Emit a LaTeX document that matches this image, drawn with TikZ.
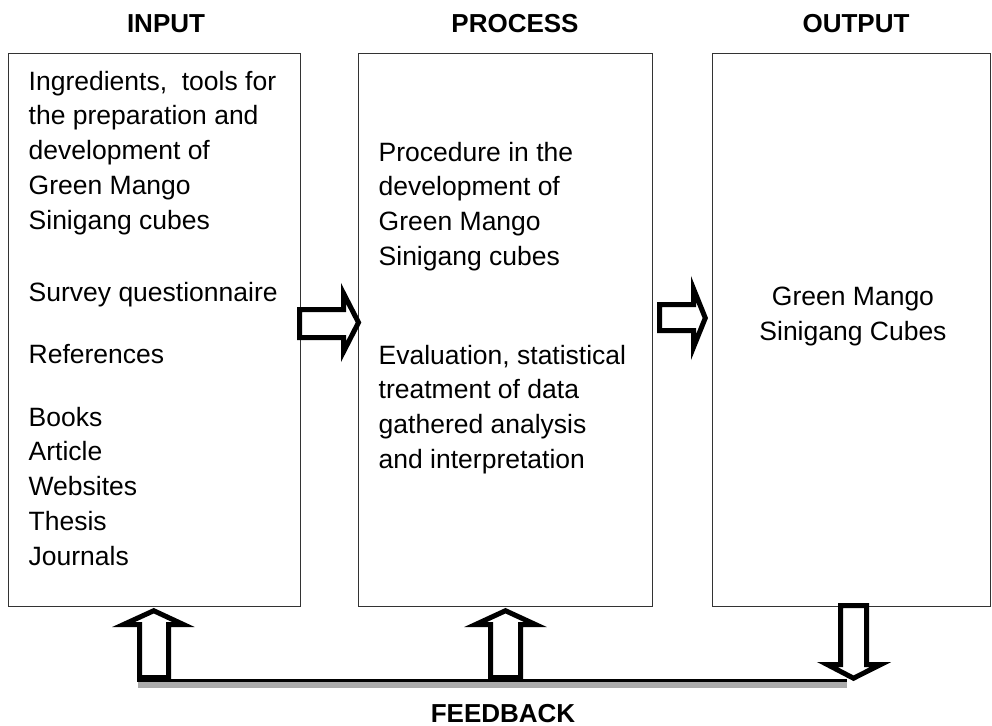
\documentclass[tikz,border=0pt]{standalone}
\usepackage{fontspec}
\setmainfont{Liberation Sans}

\begin{document}
\begin{tikzpicture}[x=0.5pt,y=-0.5pt]
\tikzstyle{box}=[draw=black!80,line width=0.5pt,inner sep=0pt,anchor=north west]
\tikzstyle{txt}=[inner sep=0pt,align=left,anchor=north west,font=\fontsize{13.25}{17.4}\selectfont]
\tikzstyle{head}=[inner sep=0pt,anchor=base,font=\fontsize{13}{15}\selectfont\bfseries]
\tikzstyle{blockarrow}=[draw=black,line width=2.5pt,fill=white,line join=miter]
\tikzstyle{fbline}=[draw=black,line width=1.5pt]
\tikzstyle{fbshadow}=[draw=black!33,line width=3pt]

\useasboundingbox (0,0) rectangle (992,725);

% the three boxes
\node[box,minimum width=146.25pt,minimum height=276.5pt] (input)   at (7.5,53)   {};
\node[box,minimum width=147pt,minimum height=276.5pt]    (process) at (357.5,53) {};
\node[box,minimum width=139pt,minimum height=276.5pt]    (output)  at (712,53)   {};

% headings
\node[head] (inhead)   at (166,32)  {INPUT};
\node[head] (prohead)  at (515,32)  {PROCESS};
\node[head] (outhead)  at (856,32)  {OUTPUT};
\node[head] (fbhead)   at (503,722) {FEEDBACK};

% input
\node[txt] (in1) at (28.3,70.4)  {Ingredients,\ \ tools for\\the preparation and\\development of\\Green Mango\\Sinigang cubes};
\node[txt] (in2) at (28.3,281.4) {Survey questionnaire};
\node[txt] (in3) at (28.3,344.4) {References};
\node[txt] (in4) at (28.3,406.4) {Books\\Article\\Websites\\Thesis\\Journals};

% process
\node[txt] (pr1) at (378.3,141.4) {Procedure in the\\development of\\Green Mango\\Sinigang cubes};
\node[txt] (pr2) at (378.3,344.4) {Evaluation, statistical\\treatment of data\\gathered analysis\\and interpretation};

% output
\node[txt,align=center,anchor=north] (out1) at (853,286.4) {Green Mango\\Sinigang Cubes};

% flow arrows
\draw[blockarrow] (299.5,309.5) -- (343.5,309.5) -- (343.5,293.3) -- (358.5,322.5)
  -- (343.5,351.7) -- (343.5,337.5) -- (299.5,337.5) -- cycle;
\draw[blockarrow] (659.5,304.5) -- (693.5,304.5) -- (693.5,288.8) -- (705.3,318)
  -- (693.5,347.2) -- (693.5,330.5) -- (659.5,330.5) -- cycle;

% feedback loop
\coordinate (shstart) at (138,685.3);
\coordinate (shend)   at (847,685.3);
\coordinate (fbstart) at (137,680.8);
\coordinate (fbend)   at (847,680.8);
\draw[fbshadow] (shstart) -- (shend);
\draw[fbline] (fbstart) -- (fbend);

\draw[blockarrow] (139.5,677.5) -- (139.5,624.5) -- (123.6,624.5) -- (153.75,610.7)
  -- (183.4,624.5) -- (168.5,624.5) -- (168.5,677.5) -- cycle;
\draw[blockarrow] (490.5,677.5) -- (490.5,624.5) -- (475.6,624.5) -- (505.5,610.7)
  -- (535.4,624.5) -- (520.5,624.5) -- (520.5,677.5) -- cycle;
\draw[blockarrow] (840.5,605.5) -- (866.5,605.5) -- (866.5,664.5) -- (880.7,664.5)
  -- (853.5,678.2) -- (827.2,664.5) -- (840.5,664.5) -- cycle;
\end{tikzpicture}
\end{document}
